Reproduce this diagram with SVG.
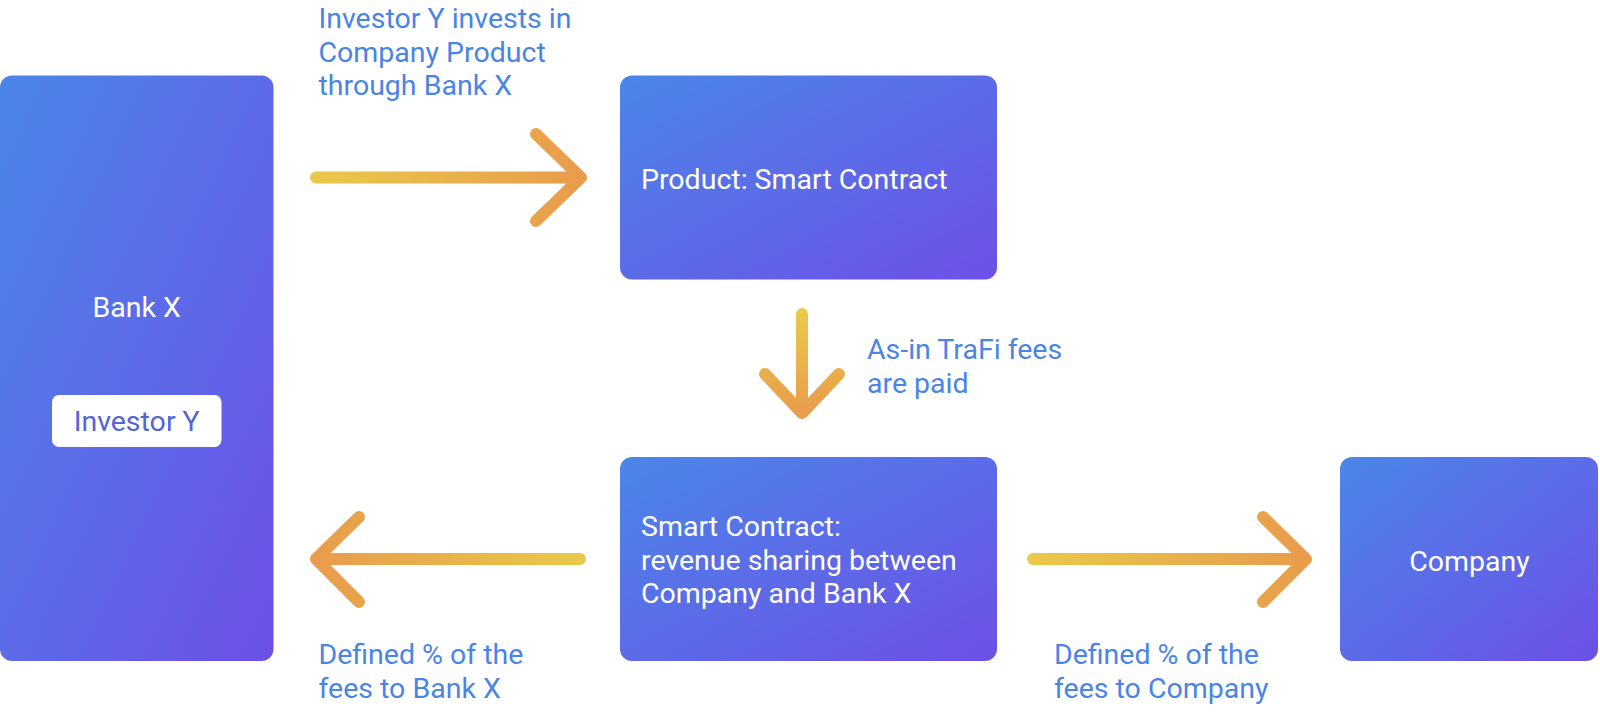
<svg xmlns="http://www.w3.org/2000/svg" width="1600" height="713" viewBox="0 0 1600 713">
  <defs>
    <linearGradient id="boxGrad" x1="0" y1="0" x2="1" y2="1">
      <stop offset="0" stop-color="#4b86e8"/>
      <stop offset="1" stop-color="#6d50e7"/>
    </linearGradient>
    <linearGradient id="arrRight" x1="0" y1="0" x2="1" y2="0">
      <stop offset="0" stop-color="#e8c94b"/>
      <stop offset="1" stop-color="#e99c4b"/>
    </linearGradient>
    <linearGradient id="arrLeft" x1="1" y1="0" x2="0" y2="0">
      <stop offset="0" stop-color="#e8c94b"/>
      <stop offset="1" stop-color="#e99c4b"/>
    </linearGradient>
    <linearGradient id="arrDown" x1="0" y1="0" x2="0" y2="1">
      <stop offset="0" stop-color="#e8c94b"/>
      <stop offset="1" stop-color="#e99c4b"/>
    </linearGradient>
  </defs>
  <style>
    .box { fill: url(#boxGrad); }
    .inner { fill: #ffffff; }
    .t { font-family: Roboto, "Liberation Sans", sans-serif; font-size: 28.5px; }
    .w { fill: #ffffff; }
    .b { fill: #4a84e6; }
    .arr { fill: none; stroke-width: 12; stroke-linecap: round; stroke-linejoin: round; }
  </style>
  <rect width="1600" height="713" fill="#ffffff"/>

  <g id="bankX">
    <rect class="box" x="0" y="75.5" width="273.5" height="585.5" rx="12"/>
    <text class="t w" x="136.7" y="317" text-anchor="middle">Bank X</text>
  </g>
  <g id="investorY">
    <rect class="inner" x="52" y="395" width="169.5" height="52" rx="7"/>
    <text class="t" x="136.7" y="431" text-anchor="middle" fill="#5264d8">Investor Y</text>
  </g>
  <g id="product">
    <rect class="box" x="620" y="75.5" width="377" height="204" rx="12"/>
    <text class="t w" x="641" y="189">Product: Smart Contract</text>
  </g>
  <g id="smartContract">
    <rect class="box" x="620" y="457" width="377" height="204" rx="12"/>
    <text class="t w" x="641" y="536">Smart Contract:</text>
    <text class="t w" x="641" y="569.5">revenue sharing between</text>
    <text class="t w" x="641" y="603">Company and Bank X</text>
  </g>
  <g id="company">
    <rect class="box" x="1340" y="457" width="258" height="204" rx="12"/>
    <text class="t w" x="1469.4" y="570.5" text-anchor="middle">Company</text>
  </g>

  <g id="connectors">
    <path class="arr" stroke="url(#arrRight)" d="M316,177.5 H581 M536,134 L581,177.5 L536,221"/>
    <path class="arr" stroke="url(#arrDown)" d="M802,314 V413 M765,374 L802,413 L839,374"/>
    <path class="arr" stroke="url(#arrLeft)" d="M580,559 H316 M359,517 L316,559 L359,602"/>
    <path class="arr" stroke="url(#arrRight)" d="M1033,559 H1306 M1263,517 L1306,559 L1263,602"/>
  </g>

  <g id="labels">
    <text class="t b" x="318.5" y="28">Investor Y invests in</text>
    <text class="t b" x="318.5" y="61.5">Company Product</text>
    <text class="t b" x="318.5" y="95">through Bank X</text>
    <text class="t b" x="867" y="359">As-in TraFi fees</text>
    <text class="t b" x="867" y="392.5">are paid</text>
    <text class="t b" x="318.5" y="664">Defined % of the</text>
    <text class="t b" x="318.5" y="697.5">fees to Bank X</text>
    <text class="t b" x="1054" y="664">Defined % of the</text>
    <text class="t b" x="1054" y="697.5">fees to Company</text>
  </g>
</svg>
